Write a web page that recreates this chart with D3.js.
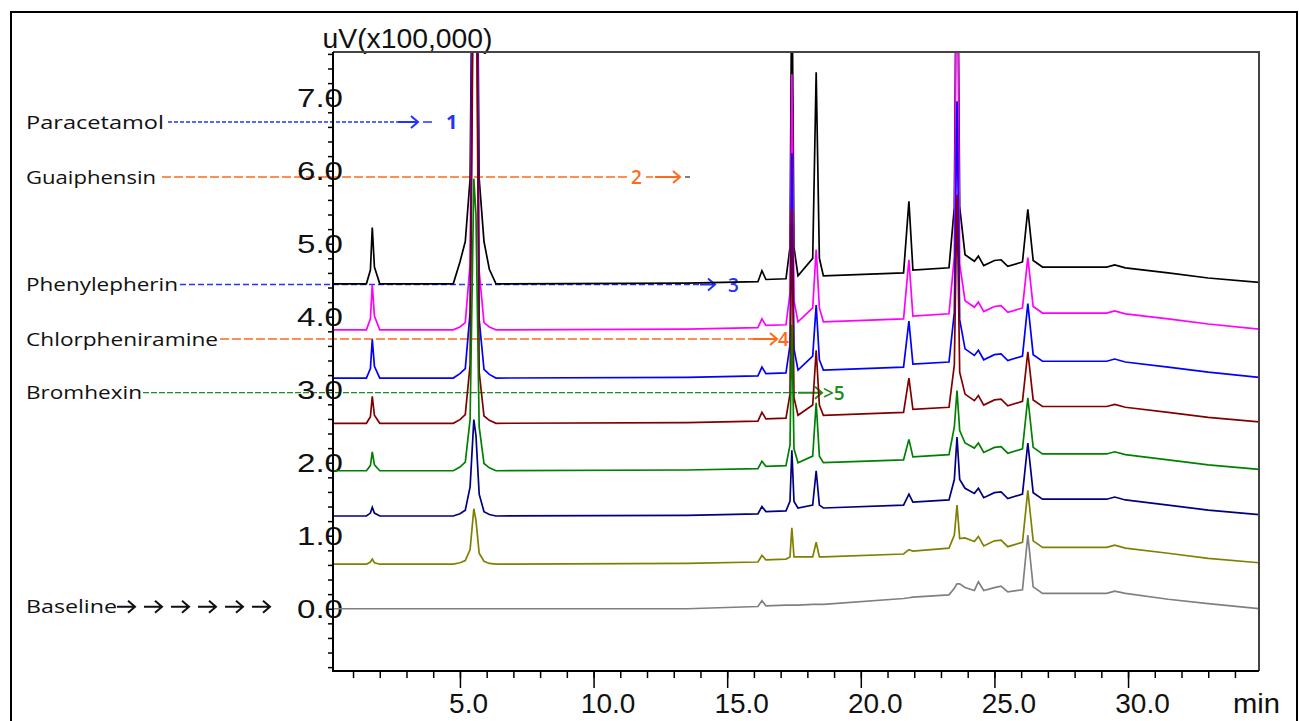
<!DOCTYPE html>
<html>
<head>
<meta charset="utf-8">
<script src="https://cdn.jsdelivr.net/npm/d3@7/dist/d3.min.js"></script>
<style>
  body { margin: 0; background: #fff; }
  svg { display: block; }
</style>
</head>
<body>
<div id="chart-area"></div>
<script>
/*
*    chromatogram overlay, main.js style
*/

// retention time grid (min), shared by every run
var times = [0.25, 1.5, 1.65, 1.72, 1.8, 2.0,
    4.75, 5.0, 5.2, 5.38, 5.52, 5.6, 5.72, 5.9, 6.1, 6.35,
    13.5, 16.15, 16.3, 16.45, 17.2, 17.35, 17.42, 17.5, 17.65, 18.2, 18.33, 18.45, 18.6,
    21.6, 21.8, 21.95, 23.3, 23.5, 23.6, 23.7, 23.9, 24.25, 24.4, 24.6, 25.0, 25.25, 25.5,
    26.05, 26.25, 26.45, 26.8, 29.2, 29.5, 29.9, 31.5, 33.0, 34.9];

// signal of each run above its own offset (uV x100,000)
var runBlack   = [0, 0, 0.19, 0.77, 0.23, 0,
    0, 0.3, 0.58, 1.44, 7, 7, 1.44, 0.58, 0.2, 0,
    0.01, 0.03, 0.18, 0.06, 0.07, 0.5, 4.5, 0.5, 0.11, 0.35, 2.9, 0.35, 0.11,
    0.15, 1.13, 0.19, 0.22, 1.05, 6, 1.05, 0.4, 0.31, 0.38, 0.25, 0.32, 0.33, 0.24,
    0.3, 1.02, 0.32, 0.23, 0.23, 0.26, 0.22, 0.15, 0.08, 0.02];
var runMagenta = [0, 0, 0.15, 0.62, 0.19, 0,
    0, 0.04, 0.1, 0.9, 7, 7, 0.8, 0.1, 0.04, 0,
    0.01, 0.03, 0.15, 0.06, 0.07, 0.5, 3.5, 0.4, 0.11, 0.3, 1.1, 0.3, 0.11,
    0.15, 0.96, 0.19, 0.22, 1.0, 6, 0.9, 0.4, 0.31, 0.38, 0.25, 0.32, 0.33, 0.24,
    0.3, 0.99, 0.32, 0.23, 0.23, 0.26, 0.22, 0.15, 0.08, 0.01];
var runBlue    = [0, 0, 0.13, 0.53, 0.16, 0,
    0, 0.06, 0.13, 0.9, 7, 7, 0.8, 0.12, 0.05, 0,
    0.01, 0.03, 0.15, 0.06, 0.07, 0.45, 3.08, 0.4, 0.11, 0.3, 1.0, 0.25, 0.11,
    0.15, 0.78, 0.19, 0.22, 0.9, 3.79, 0.8, 0.4, 0.31, 0.38, 0.25, 0.32, 0.33, 0.24,
    0.3, 1.02, 0.32, 0.23, 0.23, 0.26, 0.22, 0.15, 0.08, 0.01];
var runMaroon  = [0, 0, 0.09, 0.37, 0.11, 0,
    0, 0.05, 0.12, 0.8, 7, 7, 0.7, 0.1, 0.04, 0,
    0.01, 0.03, 0.15, 0.06, 0.07, 0.4, 2.93, 0.35, 0.11, 0.25, 1.0, 0.25, 0.11,
    0.15, 0.62, 0.19, 0.22, 0.8, 3.13, 0.7, 0.4, 0.31, 0.38, 0.25, 0.32, 0.33, 0.24,
    0.3, 0.98, 0.32, 0.23, 0.23, 0.26, 0.22, 0.15, 0.08, 0.02];
var runGreen   = [0, 0, 0.07, 0.26, 0.08, 0,
    0, 0.05, 0.12, 0.7, 4.0, 3.5, 0.6, 0.1, 0.04, 0,
    0.01, 0.03, 0.13, 0.06, 0.07, 0.35, 2.0, 0.3, 0.11, 0.2, 0.93, 0.2, 0.11,
    0.15, 0.43, 0.19, 0.22, 0.6, 1.1, 0.55, 0.38, 0.31, 0.38, 0.25, 0.32, 0.33, 0.24,
    0.3, 1.0, 0.32, 0.23, 0.23, 0.26, 0.22, 0.15, 0.08, 0.02];
var runNavy    = [0, 0, 0.04, 0.12, 0.04, 0,
    0, 0.03, 0.08, 0.4, 1.32, 1.1, 0.3, 0.06, 0.02, 0,
    0.01, 0.03, 0.13, 0.06, 0.07, 0.2, 0.9, 0.2, 0.11, 0.15, 0.62, 0.15, 0.11,
    0.15, 0.3, 0.19, 0.22, 0.5, 1.08, 0.5, 0.38, 0.31, 0.38, 0.25, 0.32, 0.33, 0.24,
    0.3, 1.0, 0.32, 0.23, 0.23, 0.26, 0.22, 0.15, 0.08, 0.02];
var runOlive   = [0, 0, 0.03, 0.07, 0.02, 0,
    0, 0.02, 0.05, 0.2, 0.76, 0.6, 0.15, 0.04, 0.01, 0,
    0.01, 0.03, 0.12, 0.06, 0.07, 0.1, 0.5, 0.1, 0.1, 0.1, 0.3, 0.1, 0.1,
    0.14, 0.2, 0.18, 0.22, 0.4, 0.81, 0.35, 0.36, 0.31, 0.38, 0.25, 0.32, 0.33, 0.24,
    0.3, 1.01, 0.32, 0.23, 0.23, 0.26, 0.22, 0.15, 0.08, 0.02];
var runBaseline = [0, 0, 0, 0, 0, 0,
    0, 0, 0, 0, 0, 0, 0, 0, 0, 0,
    0, 0.03, 0.11, 0.04, 0.05, 0.05, 0.05, 0.05, 0.05, 0.06, 0.06, 0.06, 0.06,
    0.14, 0.15, 0.16, 0.19, 0.28, 0.34, 0.34, 0.29, 0.25, 0.37, 0.25, 0.29, 0.31, 0.23,
    0.26, 1.01, 0.3, 0.21, 0.21, 0.24, 0.21, 0.13, 0.07, 0];

var runs = [runBlack, runMagenta, runBlue, runMaroon, runGreen, runNavy, runOlive, runBaseline];
var offsets = [4.45, 3.82, 3.16, 2.54, 1.89, 1.27, 0.61, 0];
var colours = ["#000000", "#ff00ff", "#0000ff", "#800000", "#008000", "#000080", "#808000", "#808080"];

var yLabels = [0, 1, 2, 3, 4, 5, 6, 7];
var xLabels = [5, 10, 15, 20, 25, 30];

var compounds = ["Paracetamol", "Guaiphensin", "Phenylepherin", "Chlorpheniramine", "Bromhexin"];
var peakNo = ["1", "2", "3", "4", ">5"];

var width = 1299;
var height = 721;
var plot = {left: 333, right: 1259, top: 52, bottom: 671};

var svg = d3.select("#chart-area").append("svg")
    .attr("width", width)
    .attr("height", height);

// outer frame
svg.append("rect")
    .attr("x", 11).attr("y", 12)
    .attr("width", 1286).attr("height", 760)
    .attr("fill", "none").attr("stroke", "#000").attr("stroke-width", 2);

var x = d3.scaleLinear().domain([0.25, 34.9]).range([plot.left, plot.right]);
var y = d3.scaleLinear().domain([-0.853, 7.626]).range([plot.bottom, plot.top]);

// ---- annotation arrows (drawn under the traces)
var notes = [
    {y: 122, c: "#2233ff", tx: 26, tl: 138, d0: 168, d1: 398, dash: "4,2", a1: 418, tail: [423, 432], nx: 446, bold: true},
    {y: 177, c: "#ff6a1a", tx: 26, tl: 130, d0: 162, d1: 630, dash: "9,3", a0: 655, a1: 680, mid: [646, 653], tail: [685, 690], nx: 631, numFirst: true},
    {y: 284.5, c: "#2233ff", tx: 26, tl: 152, d0: 180, d1: 700, dash: "6,3", a1: 715, nx: 728},
    {y: 339, c: "#ff6a1a", tx: 26, tl: 192, d0: 220, d1: 753, dash: "9,3", a1: 777, nx: 778},
    {y: 392.7, c: "#1e8c1e", tx: 26, tl: 116, d0: 143, d1: 798, dash: "6,2", a1: 822, nx: 823}
];

var ann = svg.append("g").attr("class", "notes");

function arrow(g, x0, x1, yy, col) {
    g.append("path")
        .attr("d", "M" + x0 + "," + yy + "H" + x1 + "M" + (x1 - 7) + "," + (yy - 6) + "L" + x1 + "," + yy + "L" + (x1 - 7) + "," + (yy + 6))
        .attr("fill", "none").attr("stroke", col).attr("stroke-width", 2);
}

notes.forEach(function(n, i) {
    ann.append("text")
        .attr("x", n.tx).attr("y", n.y + 6.5)
        .attr("font-family", "Open Sans").attr("font-size", "18px")
        .attr("fill", "#111")
        .attr("textLength", n.tl).attr("lengthAdjust", "spacingAndGlyphs")
        .text(compounds[i]);

    ann.append("line")
        .attr("x1", n.d0).attr("x2", n.d1)
        .attr("y1", n.y).attr("y2", n.y)
        .attr("stroke", n.c).attr("stroke-width", 1.3)
        .attr("stroke-dasharray", n.dash);

    if (n.numFirst) {
        ann.append("line").attr("x1", n.mid[0]).attr("x2", n.mid[1])
            .attr("y1", n.y).attr("y2", n.y).attr("stroke", n.c).attr("stroke-width", 1.5);
        arrow(ann, n.a0, n.a1, n.y, n.c);
        ann.append("line").attr("x1", n.tail[0]).attr("x2", n.tail[1])
            .attr("y1", n.y).attr("y2", n.y).attr("stroke", "#555").attr("stroke-width", 1.5);
    } else {
        arrow(ann, n.d1, n.a1, n.y, n.c);
        if (n.tail) {
            ann.append("line").attr("x1", n.tail[0]).attr("x2", n.tail[1])
                .attr("y1", n.y).attr("y2", n.y).attr("stroke", n.c).attr("stroke-width", 1.5);
        }
    }

    ann.append("text")
        .attr("x", n.nx).attr("y", n.y + 7)
        .attr("font-family", "Open Sans").attr("font-size", n.bold ? "20px" : "19px")
        .attr("font-weight", n.bold ? "bold" : "600")
        .attr("fill", n.c)
        .text(peakNo[i]);
});

// baseline label with its row of arrows
ann.append("text")
    .attr("x", 26).attr("y", 613)
    .attr("font-family", "Open Sans").attr("font-size", "18px")
    .attr("fill", "#111")
    .attr("textLength", 91).attr("lengthAdjust", "spacingAndGlyphs")
    .text("Baseline");
d3.range(6).forEach(function(k) {
    arrow(ann, 117 + k * 27, 135 + k * 27, 606.7, "#111");
});

// ---- axes
var gy = svg.append("g")
    .attr("transform", "translate(" + plot.left + ",0)")
    .call(d3.axisLeft(y)
        .tickValues(d3.range(-4, 39).map(function(i) { return i / 5; }))
        .tickSize(5).tickSizeOuter(0).tickFormat(""));
gy.select(".domain").remove();
gy.selectAll("line").attr("stroke", "#000").attr("stroke-width", 1.5);

var gxMinor = svg.append("g")
    .attr("transform", "translate(0," + plot.bottom + ")")
    .call(d3.axisBottom(x).tickValues(d3.range(1, 35)).tickSize(7).tickSizeOuter(0).tickFormat(""));
gxMinor.select(".domain").remove();
gxMinor.selectAll("line").attr("stroke", "#000").attr("stroke-width", 1.5);

var gxMajor = svg.append("g")
    .attr("transform", "translate(0," + plot.bottom + ")")
    .call(d3.axisBottom(x).tickValues(xLabels).tickSize(17).tickSizeOuter(0).tickFormat(""));
gxMajor.select(".domain").remove();
gxMajor.selectAll("line").attr("stroke", "#000").attr("stroke-width", 1.5);

// tick labels
svg.append("g").selectAll("text")
    .data(yLabels)
    .enter().append("text")
        .attr("x", 297)
        .attr("y", function(d) { return y(d) + 9.7; })
        .attr("font-family", "Liberation Sans, Arial").attr("font-size", "26px")
        .attr("fill", "#111")
        .attr("textLength", 46).attr("lengthAdjust", "spacingAndGlyphs")
        .text(function(d) { return d3.format(".1f")(d); });

svg.append("g").selectAll("text")
    .data(xLabels)
    .enter().append("text")
        .attr("x", function(d) { return x(d) + (d < 10 ? 8.6 : 14.5); })
        .attr("y", 713)
        .attr("text-anchor", "middle")
        .attr("font-family", "Liberation Sans, Arial").attr("font-size", "28px")
        .attr("fill", "#111")
        .text(function(d) { return d3.format(".1f")(d); });

svg.append("text")
    .attr("x", 1233).attr("y", 713)
    .attr("font-family", "Liberation Sans, Arial").attr("font-size", "28px")
    .attr("fill", "#111")
    .attr("textLength", 47).attr("lengthAdjust", "spacingAndGlyphs")
    .text("min");

// axis title
svg.append("text")
    .attr("x", 322.5).attr("y", 48.3)
    .attr("font-family", "Liberation Sans, Arial").attr("font-size", "28px")
    .attr("fill", "#111")
    .attr("textLength", 170).attr("lengthAdjust", "spacingAndGlyphs")
    .text("uV(x100,000)");

// ---- traces
svg.append("clipPath").attr("id", "clip")
    .append("rect")
    .attr("x", plot.left).attr("y", plot.top)
    .attr("width", plot.right - plot.left).attr("height", plot.bottom - plot.top);

var line = d3.line()
    .x(function(d) { return x(d.t); })
    .y(function(d) { return y(d.v); });

var series = runs.map(function(r, i) {
    return times.map(function(t, j) { return {t: t, v: offsets[i] + r[j]}; });
});

svg.append("g").attr("clip-path", "url(#clip)")
    .selectAll("path")
    .data(series)
    .enter().append("path")
        .attr("d", line)
        .attr("fill", "none")
        .attr("stroke", function(d, i) { return colours[i]; })
        .attr("stroke-width", 1.7)
        .attr("stroke-linejoin", "miter");

// plot frame: axes in black, top/right in dark grey
svg.append("path")
    .attr("d", "M" + plot.left + "," + plot.top + "H" + plot.right + "V" + plot.bottom)
    .attr("fill", "none").attr("stroke", "#444").attr("stroke-width", 2);
svg.append("path")
    .attr("d", "M" + plot.left + "," + plot.top + "V" + plot.bottom + "H" + plot.right)
    .attr("fill", "none").attr("stroke", "#000").attr("stroke-width", 2);
</script>
</body>
</html>
